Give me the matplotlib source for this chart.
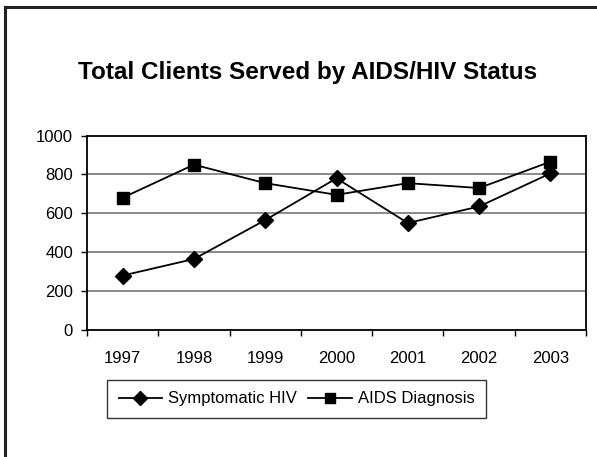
import matplotlib
matplotlib.use("Agg")
import matplotlib.pyplot as plt
from matplotlib.lines import Line2D
import numpy as np

plt.rcParams['font.family'] = ['Liberation Sans', 'DejaVu Sans']

years = ['1997', '1998', '1999', '2000', '2001', '2002', '2003']
symptomatic_hiv = [280, 365, 565, 780, 550, 635, 805]
aids_diagnosis = [680, 850, 755, 695, 755, 730, 865]
y_ticks = [0, 200, 400, 600, 800, 1000]

W, H = 597, 457
fig = plt.figure(figsize=(W / 100, H / 100), dpi=100)

# axes box measured in pixels of the reference
left, right, top, bottom = 87, 586, 135.5, 330
ax = fig.add_axes([left / W, 1 - bottom / H, (right - left) / W, (bottom - top) / H])

x = np.arange(len(years))
ax.plot(x, symptomatic_hiv, color='black', lw=1.3, marker='D', ms=8,
        mfc='black', mec='black', label='Symptomatic HIV', zorder=3)
ax.plot(x, aids_diagnosis, color='black', lw=1.3, marker='s', ms=8.5,
        mfc='black', mec='black', label='AIDS Diagnosis', zorder=3)

ax.set_xlim(-0.5, len(years) - 0.5)
ax.set_ylim(0, 1000)
ax.set_yticks(y_ticks)
ax.set_yticklabels([str(v) for v in y_ticks])
ax.set_xticks(x)
ax.set_xticklabels(years)
ax.set_xticks(np.arange(-0.5, len(years)), minor=True)
ax.tick_params(axis='x', which='major', length=0, pad=15, labelsize=12)
ax.tick_params(axis='x', which='minor', length=4, width=1, direction='out')
ax.tick_params(axis='y', length=4, width=1, direction='out', pad=6, labelsize=12)

for v in y_ticks[1:-1]:
    ax.axhline(v, color='#808080', lw=1.3, zorder=1)

for s in ax.spines.values():
    s.set_color('black')
    s.set_linewidth(1.3)

fig.text(307.5 / W, 1 - 73 / H, 'Total Clients Served by AIDS/HIV Status',
         ha='center', va='center', fontsize=17.5, fontweight='bold')

handles = [Line2D([], [], color='black', lw=1.3, marker='D', ms=7, mfc='black'),
           Line2D([], [], color='black', lw=1.3, marker='s', ms=7, mfc='black')]
leg = fig.legend(handles, ['Symptomatic HIV', 'AIDS Diagnosis'], ncol=2,
                 loc='center', bbox_to_anchor=(296.5 / W, 1 - 399 / H),
                 fontsize=12, frameon=True, fancybox=False, shadow=False,
                 handlelength=2.6, handletextpad=0.35, columnspacing=0.7,
                 borderpad=0.7, borderaxespad=0)
leg.get_frame().set_edgecolor('black')
leg.get_frame().set_linewidth(1.0)

# outer chart border (only top and left edges are visible in the crop)
fig.add_artist(Line2D([4.5 / W, 4.5 / W], [0, 1 - 7 / H], transform=fig.transFigure,
                      color='#222222', lw=2.2))
fig.add_artist(Line2D([4.5 / W, 1], [1 - 7 / H, 1 - 7 / H], transform=fig.transFigure,
                      color='#222222', lw=2.2))

fig.savefig('out.png', dpi=100)
